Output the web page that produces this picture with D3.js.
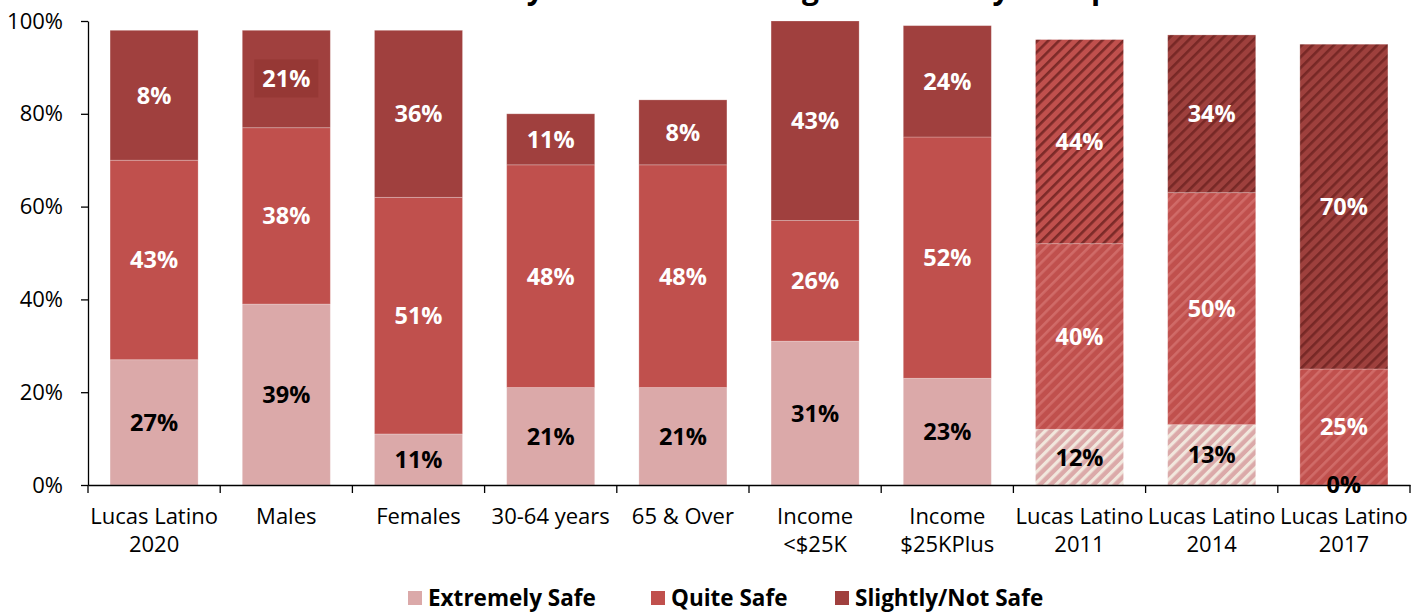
<!DOCTYPE html>
<html>
<head>
<meta charset="utf-8">
<script src="https://cdn.jsdelivr.net/npm/d3@7/dist/d3.min.js"></script>
<style>
  body { margin: 0; background: #fff; font-family: 'Open Sans', sans-serif; }
</style>
</head>
<body>
<div id="chart"></div>
<script>
// Data
const categories = ['Lucas Latino\n2020', 'Males', 'Females', '30-64 years', '65 & Over',
  'Income\n<$25K', 'Income\n$25KPlus', 'Lucas Latino\n2011', 'Lucas Latino\n2014', 'Lucas Latino\n2017'];
const extremelySafe = [27, 39, 11, 21, 21, 31, 23, 12, 13, 0];
const quiteSafe = [43, 38, 51, 48, 48, 26, 52, 40, 50, 25];
const slightlyNotSafe = [28, 21, 36, 11, 14, 43, 24, 44, 34, 70];
// printed labels (two of them differ from the drawn heights in the original)
const extremelyLabels = [27, 39, 11, 21, 21, 31, 23, 12, 13, 0];
const quiteLabels = [43, 38, 51, 48, 48, 26, 52, 40, 50, 25];
const slightlyLabels = [8, 21, 36, 11, 8, 43, 24, 44, 34, 70];
const seriesNames = ['Extremely Safe', 'Quite Safe', 'Slightly/Not Safe'];
const yTicks = [0, 20, 40, 60, 80, 100];
const hatchedCats = ['Lucas Latino\n2011', 'Lucas Latino\n2014', 'Lucas Latino\n2017'];
const boxedLabel = { cat: 'Males', series: 'Slightly/Not Safe' };
const title = 'Perceived Safety in Their Own Neighborhood by Group';

const COLORS = {
  'Extremely Safe': '#dba9a9',
  'Quite Safe': '#c0504d',
  'Slightly/Not Safe': '#a0403e',
};
const LABEL_COLORS = { 'Extremely Safe': '#000', 'Quite Safe': '#fff', 'Slightly/Not Safe': '#fff' };

const W = 1423, H = 612;
const margin = { top: 21, right: 13, bottom: 127, left: 88 };
const width = W - margin.left - margin.right;
const height = H - margin.top - margin.bottom;

const rows = categories.map((c, i) => ({
  cat: c,
  'Extremely Safe': extremelySafe[i],
  'Quite Safe': quiteSafe[i],
  'Slightly/Not Safe': slightlyNotSafe[i],
}));
const labels = {
  'Extremely Safe': extremelyLabels,
  'Quite Safe': quiteLabels,
  'Slightly/Not Safe': slightlyLabels,
};

const svg = d3.select('#chart').append('svg')
  .attr('width', W).attr('height', H)
  .style('font-family', "'Open Sans', sans-serif");

// Hatch patterns for the trend bars
const defs = svg.append('defs');
function hatch(id, base, stripe, w) {
  const p = defs.append('pattern')
    .attr('id', id)
    .attr('patternUnits', 'userSpaceOnUse')
    .attr('width', 7.6).attr('height', 7.6)
    .attr('patternTransform', 'rotate(45)');
  p.append('rect').attr('width', 7.6).attr('height', 7.6).attr('fill', base);
  p.append('rect').attr('width', w).attr('height', 7.6).attr('fill', stripe);
}
hatch('h-ext', '#dba9a9', '#f1e7dd', 3.2);
hatch('h-quite', '#c0504d', '#d06b68', 2.6);
hatch('h-slight-red', '#c0504d', '#7c2a28', 2.6);
hatch('h-slight', '#9e403d', '#772826', 2.6);

function fillFor(series, cat) {
  if (!hatchedCats.includes(cat)) return COLORS[series];
  if (series === 'Extremely Safe') return 'url(#h-ext)';
  if (series === 'Quite Safe') return 'url(#h-quite)';
  return cat === hatchedCats[0] ? 'url(#h-slight-red)' : 'url(#h-slight)';
}

const g = svg.append('g').attr('transform', `translate(${margin.left},${margin.top})`);

// Title (mostly above the visible area, as in the reference)
svg.append('text')
  .attr('x', 1110).attr('y', -1)
  .attr('text-anchor', 'end')
  .attr('font-size', '30px').attr('font-weight', 'bold')
  .attr('fill', '#000')
  .text(title);

// Scales
const x = d3.scaleBand().domain(categories).range([0, width]).paddingInner(0.334).paddingOuter(0.167);
const y = d3.scaleLinear().domain([0, 100]).range([height, 0]);

const stack = d3.stack().keys(seriesNames)(rows);

// Bars
const layers = g.selectAll('.layer').data(stack).join('g').attr('class', 'layer');
layers.selectAll('rect')
  .data(d => d.map(v => ({ key: d.key, v })))
  .join('rect')
  .attr('x', d => x(d.v.data.cat))
  .attr('y', d => y(d.v[1]))
  .attr('width', x.bandwidth())
  .attr('height', d => y(d.v[0]) - y(d.v[1]))
  .attr('fill', d => fillFor(d.key, d.v.data.cat))
  .attr('stroke', '#fff')
  .attr('stroke-opacity', 0.3)
  .attr('stroke-width', 0.8);

// Y axis
const yAxis = g.append('g')
  .call(d3.axisLeft(y).tickValues(yTicks).tickFormat(d => d + '%').tickSize(7).tickSizeOuter(0));
yAxis.select('.domain').attr('stroke', '#000').attr('stroke-width', 1.3);
yAxis.selectAll('.tick line').attr('stroke', '#000').attr('stroke-width', 1.3);
yAxis.selectAll('.tick text')
  .attr('x', -25)
  .attr('font-size', '22px')
  .attr('font-family', "'Open Sans', sans-serif")
  .attr('fill', '#000');

// X axis
const xAxis = g.append('g')
  .attr('transform', `translate(0,${height})`)
  .call(d3.axisBottom(x).tickSize(0).tickSizeOuter(0).tickFormat(''));
xAxis.select('.domain').attr('stroke', '#000').attr('stroke-width', 1.3);
const boundaries = categories.map(c => x(c) - x.step() * x.paddingOuter()).concat([width]);
xAxis.selectAll('.bound')
  .data(boundaries)
  .join('line')
  .attr('x1', d => d).attr('x2', d => d)
  .attr('y1', 0).attr('y2', 8)
  .attr('stroke', '#000').attr('stroke-width', 1.3);
xAxis.selectAll('.tick').each(function (d) {
  const t = d3.select(this).append('text')
    .attr('fill', '#000')
    .attr('font-size', '22px')
    .attr('font-family', "'Open Sans', sans-serif")
    .attr('text-anchor', 'middle');
  d.split('\n').forEach((line, i) => {
    t.append('tspan').attr('x', 0).attr('y', 39 + i * 28).text(line);
  });
});

// Data labels
const labelG = g.append('g');
stack.forEach(layer => {
  layer.forEach((v, i) => {
    const cx = x(v.data.cat) + x.bandwidth() / 2;
    const cy = (y(v[0]) + y(v[1])) / 2;
    const isBoxed = v.data.cat === boxedLabel.cat && layer.key === boxedLabel.series;
    const t = labelG.append('text')
      .attr('x', cx).attr('y', cy)
      .attr('dy', '0.36em')
      .attr('text-anchor', 'middle')
      .attr('font-size', '23.5px').attr('font-weight', 'bold')
      .attr('fill', LABEL_COLORS[layer.key])
      .text(labels[layer.key][i] + '%');
    if (isBoxed) {
      const bb = t.node().getBBox();
      labelG.insert('rect', 'text')
        .attr('x', bb.x - 8).attr('y', bb.y - 3)
        .attr('width', bb.width + 16).attr('height', bb.height + 6)
        .attr('fill', '#963835');
    }
  });
});

// Legend
const legend = svg.append('g').attr('transform', `translate(0, 598)`);
const legendX = [408, 651, 835];
seriesNames.forEach((name, i) => {
  const it = legend.append('g').attr('transform', `translate(${legendX[i]},0)`);
  it.append('rect').attr('x', 0).attr('y', -7).attr('width', 14).attr('height', 14).attr('fill', COLORS[name]);
  it.append('text').attr('x', 20).attr('y', 0).attr('dy', '0.36em')
    .attr('font-size', '22.5px').attr('font-weight', 'bold').attr('fill', '#000')
    .text(name);
});
</script>
</body>
</html>
